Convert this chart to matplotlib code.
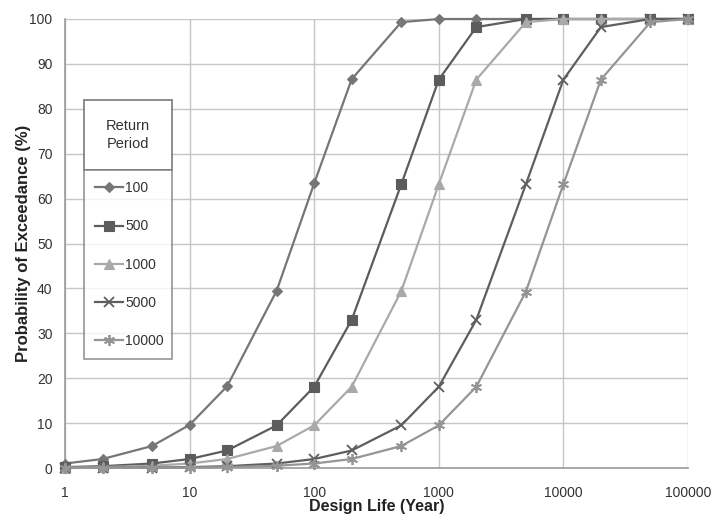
import matplotlib
matplotlib.use("Agg")
import matplotlib.pyplot as plt
from matplotlib.patches import Rectangle

plt.rcParams['font.family'] = ['Liberation Sans', 'DejaVu Sans']

design_life = [1, 2, 5, 10, 20, 50, 100, 200, 500, 1000, 2000, 5000, 10000, 20000, 50000, 100000]
return_periods = ["100", "500", "1000", "5000", "10000"]
p100 = [1.0, 2.0, 4.9, 9.6, 18.2, 39.5, 63.4, 86.6, 99.3, 100, 100, 100, 100, 100, 100, 100]
p500 = [0.2, 0.4, 1.0, 2.0, 3.9, 9.5, 18.1, 33.0, 63.2, 86.5, 98.2, 100, 100, 100, 100, 100]
p1000 = [0.1, 0.2, 0.5, 1.0, 2.0, 4.9, 9.5, 18.1, 39.4, 63.2, 86.5, 99.3, 100, 100, 100, 100]
p5000 = [0.02, 0.04, 0.1, 0.2, 0.4, 1.0, 2.0, 3.9, 9.5, 18.1, 33.0, 63.2, 86.5, 98.2, 100, 100]
p10000 = [0.01, 0.02, 0.05, 0.1, 0.2, 0.5, 1.0, 2.0, 4.9, 9.5, 18.1, 39.3, 63.2, 86.5, 99.3, 100]
series = [p100, p500, p1000, p5000, p10000]

xtick_vals = [1, 10, 100, 1000, 10000, 100000]
xtick_labels = ["1", "10", "100", "1000", "10000", "100000"]
ytick_vals = list(range(0, 101, 10))

colors = ["#767676", "#5c5c5c", "#a9a9a9", "#5e5e5e", "#959595"]
markers = ["D", "s", "^", "x", (6, 2, 0)]
msizes = [5, 7, 6.5, 7, 8]

fig = plt.figure(figsize=(7.17, 5.17), dpi=100)
ax = fig.add_axes([65/717, 49/517, 623/717, 449/517])

handles = []
for vals, c, m, ms, lab in zip(series, colors, markers, msizes, return_periods):
    h, = ax.plot(design_life, vals, color=c, lw=1.6, marker=m, markersize=ms,
                 markeredgewidth=1.3 if (m == "x" or isinstance(m, tuple)) else 0.8,
                 markeredgecolor=c, markerfacecolor=c, clip_on=False, zorder=3, label=lab)
    handles.append(h)

ax.set_xscale("log")
ax.set_xlim(1, 100000)
ax.set_ylim(0, 100)
ax.set_xticks(xtick_vals)
ax.set_xticklabels(xtick_labels)
ax.minorticks_off()
ax.set_yticks(ytick_vals)
ax.tick_params(axis="both", length=0, labelsize=10, colors="#333333")
ax.tick_params(axis="x", pad=13)
ax.tick_params(axis="y", pad=9)
ax.grid(True, color="#c6c6c6", lw=1)
ax.set_axisbelow(True)
for s in ["top", "right"]:
    ax.spines[s].set_visible(False)
for s in ["left", "bottom"]:
    ax.spines[s].set_color("#9a9a9a")
    ax.spines[s].set_linewidth(1.2)

ax.set_xlabel("Design Life (Year)", fontsize=11.5, fontweight="bold", labelpad=-1, color="#222222")
ax.set_ylabel("Probability of Exceedance (%)", fontsize=12, fontweight="bold", labelpad=-1, color="#222222")


def px2ax(xp, yp):
    return ((xp - 65) / 623, (468 - yp) / 449)


# legend title box
x0, y0 = px2ax(84, 170)
x1, y1 = px2ax(172, 100)
ax.add_patch(Rectangle((x0, y0), x1 - x0, y1 - y0, transform=ax.transAxes,
                       facecolor="white", edgecolor="#7a7a7a", lw=1.2, zorder=5, clip_on=False))
tx, ty = px2ax(128, 135)
ax.text(tx, ty, "Return\nPeriod", transform=ax.transAxes, ha="center", va="center",
        fontsize=10.5, color="#333333", zorder=7, linespacing=1.3)

lx0, ly1 = px2ax(84, 170)
lx1, ly0 = px2ax(172, 359)
leg = ax.legend(handles=handles, loc="upper left", bbox_to_anchor=(lx0, ly0, lx1 - lx0, ly1 - ly0),
                mode="expand", frameon=True, fancybox=False, fontsize=10, labelspacing=1.75,
                handlelength=2.0, handletextpad=0.15, borderpad=0.8, borderaxespad=0,
                labelcolor="#333333")
leg.get_frame().set_edgecolor("#7a7a7a")
leg.get_frame().set_linewidth(1.2)
leg.set_zorder(6)

fig.savefig("out.png", dpi=100)
